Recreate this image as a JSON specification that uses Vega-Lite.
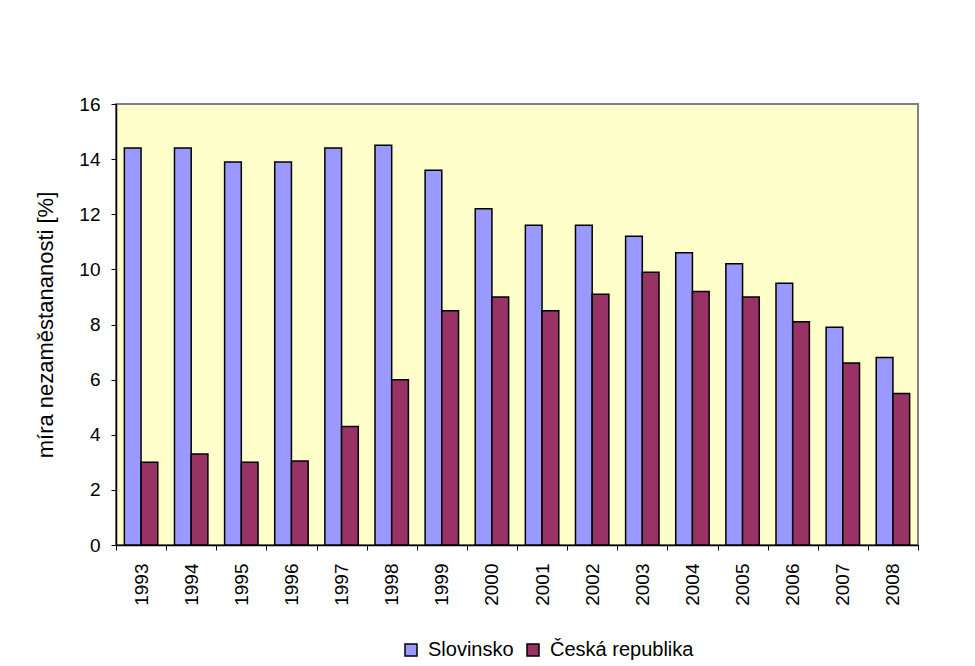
{
  "$schema": "https://vega.github.io/schema/vega-lite/v6.json",
  "width": 802,
  "height": 441,
  "autosize": {"type": "none"},
  "padding": {"left": 116, "top": 104, "right": 57, "bottom": 121},
  "background": "white",
  "config": {
    "font": "Liberation Sans",
    "view": {"fill": "#FFFFCC", "stroke": "#808080", "strokeWidth": 2},
    "axis": {"labelColor": "black", "titleColor": "black", "domainColor": "black", "tickColor": "black", "grid": false, "labelFont": "Liberation Sans", "titleFont": "Liberation Sans"}
  },
  "data": {
    "values": [
      {"year": "1993", "country": "Slovinsko", "value": 14.4},
      {"year": "1994", "country": "Slovinsko", "value": 14.4},
      {"year": "1995", "country": "Slovinsko", "value": 13.9},
      {"year": "1996", "country": "Slovinsko", "value": 13.9},
      {"year": "1997", "country": "Slovinsko", "value": 14.4},
      {"year": "1998", "country": "Slovinsko", "value": 14.5},
      {"year": "1999", "country": "Slovinsko", "value": 13.6},
      {"year": "2000", "country": "Slovinsko", "value": 12.2},
      {"year": "2001", "country": "Slovinsko", "value": 11.6},
      {"year": "2002", "country": "Slovinsko", "value": 11.6},
      {"year": "2003", "country": "Slovinsko", "value": 11.2},
      {"year": "2004", "country": "Slovinsko", "value": 10.6},
      {"year": "2005", "country": "Slovinsko", "value": 10.2},
      {"year": "2006", "country": "Slovinsko", "value": 9.5},
      {"year": "2007", "country": "Slovinsko", "value": 7.9},
      {"year": "2008", "country": "Slovinsko", "value": 6.8},
      {"year": "1993", "country": "Česká republika", "value": 3.0},
      {"year": "1994", "country": "Česká republika", "value": 3.3},
      {"year": "1995", "country": "Česká republika", "value": 3.0},
      {"year": "1996", "country": "Česká republika", "value": 3.05},
      {"year": "1997", "country": "Česká republika", "value": 4.3},
      {"year": "1998", "country": "Česká republika", "value": 6.0},
      {"year": "1999", "country": "Česká republika", "value": 8.5},
      {"year": "2000", "country": "Česká republika", "value": 9.0},
      {"year": "2001", "country": "Česká republika", "value": 8.5},
      {"year": "2002", "country": "Česká republika", "value": 9.1},
      {"year": "2003", "country": "Česká republika", "value": 9.9},
      {"year": "2004", "country": "Česká republika", "value": 9.2},
      {"year": "2005", "country": "Česká republika", "value": 9.0},
      {"year": "2006", "country": "Česká republika", "value": 8.1},
      {"year": "2007", "country": "Česká republika", "value": 6.6},
      {"year": "2008", "country": "Česká republika", "value": 5.5}
    ]
  },
  "mark": {"type": "bar", "stroke": "black", "strokeWidth": 1.5},
  "encoding": {
    "x": {
      "field": "year", "type": "ordinal",
      "scale": {"paddingInner": 0, "paddingOuter": 0},
      "axis": {"title": null, "labelAngle": -90, "labelAlign": "right", "labelBaseline": "middle", "labelFontSize": 19, "labelPadding": 13, "tickSize": 5, "tickBand": "extent", "domainWidth": 1.5, "tickWidth": 1}
    },
    "xOffset": {
      "field": "country", "type": "nominal",
      "sort": ["Slovinsko", "Česká republika"],
      "scale": {"paddingInner": 0, "paddingOuter": 0.5}
    },
    "y": {
      "field": "value", "type": "quantitative",
      "scale": {"domain": [0, 16], "nice": false},
      "axis": {"title": "míra nezaměstananosti [%]", "values": [0, 2, 4, 6, 8, 10, 12, 14, 16], "labelFontSize": 19, "titleFontSize": 22, "titleFontWeight": "normal", "labelPadding": 11, "tickSize": 5, "titlePadding": 21, "domainWidth": 1.5}
    },
    "color": {
      "field": "country", "type": "nominal",
      "sort": ["Slovinsko", "Česká republika"],
      "scale": {"domain": ["Slovinsko", "Česká republika"], "range": ["#9999FF", "#993366"]},
      "legend": {"title": null, "orient": "none", "direction": "horizontal", "legendX": 285, "legendY": 536, "symbolType": "square", "symbolSize": 144, "symbolStrokeColor": "black", "symbolStrokeWidth": 1.5, "labelFontSize": 20, "labelColor": "black", "labelOffset": 7, "columnPadding": 9, "labelFont": "Liberation Sans"}
    }
  }
}
